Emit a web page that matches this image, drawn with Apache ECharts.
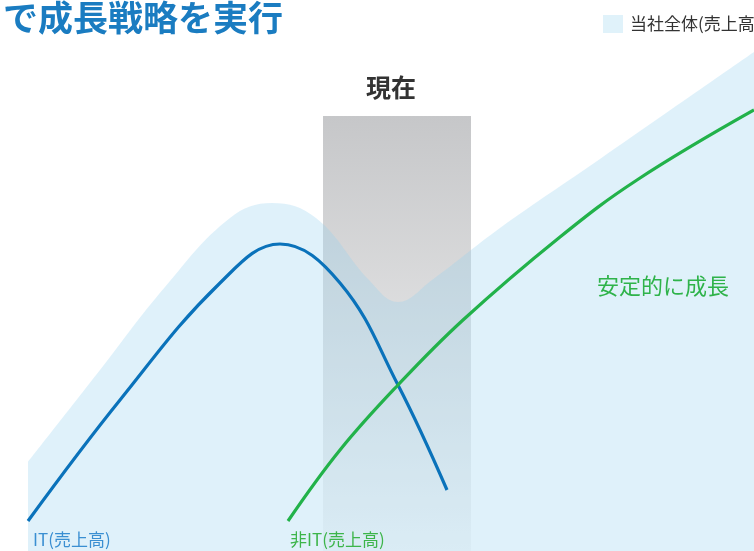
<!DOCTYPE html>
<html>
<head>
<meta charset="utf-8">
<script src="https://cdn.jsdelivr.net/npm/echarts@6/dist/echarts.min.js"></script>
<style>
  html, body { margin: 0; padding: 0; background: #fff; }
  #chart { width: 754px; height: 551px; }
</style>
</head>
<body>
<div id="chart"></div>
<script>
// 座標は画面上の位置をそのまま値として読み取ったもの (x: 左から, y: 上から)
const H = 551;
const totalX = [28, 100, 165, 230, 272, 316, 369, 398, 432, 500, 600, 754];
const totalY = [462, 370, 287, 218, 203, 218, 280, 302, 280, 228, 159, 52];
const itX = [28, 120, 220, 280, 340, 398, 447];
const itY = [521, 400, 283, 244, 283, 385, 490];
const nonItX = [288, 340, 398, 463, 560, 637, 754];
const nonItY = [521, 450, 385, 320, 237, 180, 110];
const nowBand = [323, 471, 116]; // 左, 右, 上

const toPts = (xs, ys) => xs.map((x, i) => [x, H - ys[i]]);

const chart = echarts.init(document.getElementById("chart"));
const font = "'Noto Sans CJK JP', 'Noto Sans', sans-serif";

const option = {
  animation: false,
  grid: { left: 0, right: 0, top: 0, bottom: 0 },
  xAxis: { type: "value", min: 0, max: 754, show: false },
  yAxis: { type: "value", min: 0, max: H, show: false },
  legend: {
    left: 603,
    top: 15,
    padding: 0,
    icon: "rect",
    itemWidth: 20,
    itemHeight: 18,
    data: [{ name: "当社全体(売上高)", itemStyle: { color: "#e0f2fa" } }],
    textStyle: { fontFamily: font, fontSize: 17, color: "#333", padding: [0, 0, 0, 2] },
  },
  series: [
    {
      name: "band",
      type: "line",
      data: [],
      z: 1,
      markArea: {
        silent: true,
        itemStyle: {
          color: new echarts.graphic.LinearGradient(0, 0, 0, 1, [
            { offset: 0, color: "#c6c7c9" },
            { offset: 1, color: "#f8f8f8" },
          ]),
        },
        data: [[{ xAxis: nowBand[0], yAxis: H - nowBand[2] }, { xAxis: nowBand[1], yAxis: 0 }]],
      },
    },
    {
      name: "当社全体(売上高)",
      type: "line",
      z: 2,
      smooth: 0.4,
      showSymbol: false,
      color: "#e0f2fa",
      lineStyle: { width: 0, opacity: 0 },
      areaStyle: { color: "rgba(150,210,240,0.3)", opacity: 1 },
      data: toPts(totalX, totalY),
    },
    {
      name: "IT",
      type: "line",
      z: 3,
      smooth: 0.4,
      showSymbol: false,
      color: "#0a72ba",
      lineStyle: { width: 3.2, color: "#0a72ba" },
      data: toPts(itX, itY),
    },
    {
      name: "非IT",
      type: "line",
      z: 3,
      smooth: 0.4,
      showSymbol: false,
      color: "#22b24a",
      lineStyle: { width: 3.2, color: "#22b24a" },
      data: toPts(nonItX, nonItY),
    },
  ],
  graphic: [
    {
      type: "text", left: 3, top: 0, z: 10,
      style: { text: "で成長戦略を実行", font: "bold 35px " + font, fill: "#1a7cc1" },
    },
    {
      type: "text", left: 366, top: 75, z: 10,
      style: { text: "現在", font: "bold 25px " + font, fill: "#333" },
    },
    {
      type: "text", left: 597, top: 275, z: 10,
      style: { text: "安定的に成長", font: "22px " + font, fill: "#2fb34a" },
    },
    {
      type: "text", left: 33, top: 531, z: 10,
      style: { text: "IT(売上高)", font: "17px " + font, fill: "#3a8fd2" },
    },
    {
      type: "text", left: 290, top: 531, z: 10,
      style: { text: "非IT(売上高)", font: "17px " + font, fill: "#3db54a" },
    },
  ],
};
chart.setOption(option);
</script>
</body>
</html>
